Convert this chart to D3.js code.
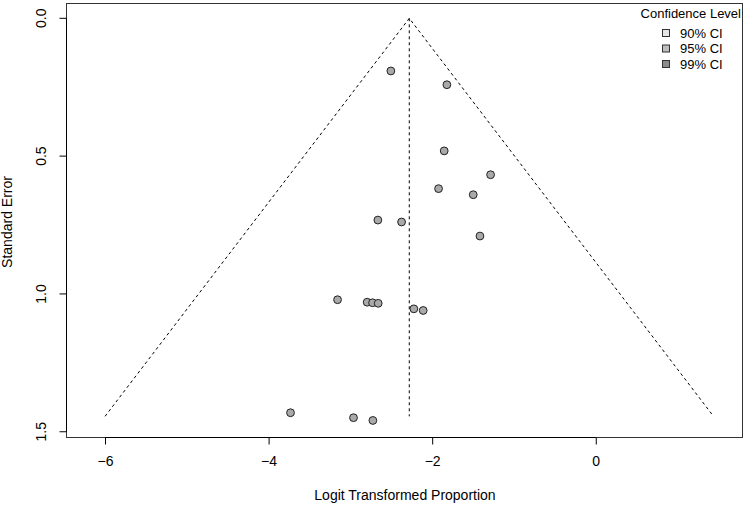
<!DOCTYPE html>
<html>
<head>
<meta charset="utf-8">
<script src="https://cdn.jsdelivr.net/npm/d3@7"></script>
<style>
  body { margin: 0; background: #fff; }
  svg { font-family: "Liberation Sans", Arial, sans-serif; }
</style>
</head>
<body>
<svg width="746" height="506"></svg>
<script>
// study estimates (logit proportion) and their standard errors
var estimates = [-2.505, -1.82, -1.853, -1.286, -1.922, -1.498, -2.664, -2.374, -1.416,
                 -3.157, -2.795, -2.729, -2.66, -2.224, -2.11, -3.732, -2.962, -2.725];
var stdErrors = [0.191, 0.241, 0.481, 0.5675, 0.618, 0.640, 0.732, 0.739, 0.790,
                 1.021, 1.030, 1.032, 1.034, 1.054, 1.060, 1.431, 1.449, 1.459];

var pooled = -2.28,      // summary estimate (centre line)
    seMax = 1.444,       // bottom of the funnel
    zCrit = 2.576;       // 99% limits

var xTicks = [-6, -4, -2, 0],
    yTicks = [0, 0.5, 1, 1.5];

var legendTitle = "Confidence Level",
    legendLabels = ["90% CI", "95% CI", "99% CI"],
    legendFills = ["#e6e6e6", "#bebebe", "#8c8c8c"];

var svg = d3.select("svg"),
    box = {left: 66, right: 742, top: 3, bottom: 437};

var x = d3.scaleLinear().domain([-6.477, 1.788]).range([box.left, box.right]),
    y = d3.scaleLinear().domain([-0.0555, 1.519]).range([box.top, box.bottom]);

// funnel (dotted) and centre line
var funnel = [[pooled - zCrit * seMax, seMax], [pooled, 0], [pooled + zCrit * seMax, seMax]];
svg.append("path")
    .datum(funnel)
    .attr("fill", "none")
    .attr("stroke", "#000")
    .attr("stroke-width", 1)
    .attr("stroke-dasharray", "3,3")
    .attr("d", d3.line().x(d => x(d[0])).y(d => y(d[1])));

svg.append("line")
    .attr("x1", x(pooled)).attr("x2", x(pooled))
    .attr("y1", y(0)).attr("y2", y(seMax))
    .attr("stroke", "#000")
    .attr("stroke-dasharray", "3,3");

// points
svg.append("g").selectAll("circle")
    .data(estimates)
  .enter().append("circle")
    .attr("cx", d => x(d))
    .attr("cy", (d, i) => y(stdErrors[i]))
    .attr("r", 3.9)
    .attr("fill", "#a9a9a9")
    .attr("stroke", "#222")
    .attr("stroke-width", 1);

// box
svg.append("rect")
    .attr("x", box.left + 0.5).attr("y", box.top + 0.5)
    .attr("width", box.right - box.left).attr("height", box.bottom - box.top)
    .attr("fill", "none")
    .attr("stroke", "#333");

// axes
var xAxis = d3.axisBottom(x).tickValues(xTicks).tickSize(7).tickPadding(12)
    .tickFormat(d => d < 0 ? "\u2212" + Math.abs(d) : d);
var yAxis = d3.axisLeft(y).tickValues(yTicks).tickSize(7)
    .tickFormat(d3.format(".1f"));

var gx = svg.append("g")
    .attr("transform", "translate(0," + (box.bottom + 0.5) + ")")
    .call(xAxis);
gx.select(".domain").attr("d", "M" + x(xTicks[0]) + ",0H" + x(xTicks[xTicks.length - 1]));
gx.selectAll("text").attr("font-size", 14).attr("fill", "#000");

var gy = svg.append("g")
    .attr("transform", "translate(" + (box.left + 0.5) + ",0)")
    .call(yAxis);
gy.select(".domain").attr("d", "M0," + y(yTicks[0]) + "V" + y(yTicks[yTicks.length - 1]));
gy.selectAll(".tick").attr("transform", null);
gy.selectAll(".tick line").attr("transform", d => "translate(0," + y(d) + ")");
gy.selectAll(".tick text")
    .attr("font-size", 14)
    .attr("fill", "#000")
    .attr("text-anchor", "middle")
    .attr("x", 0).attr("y", 0).attr("dy", null)
    .attr("transform", d => "translate(-20.5," + y(d) + ") rotate(-90)");

svg.append("text")
    .attr("x", 405)
    .attr("y", 500)
    .attr("text-anchor", "middle")
    .attr("font-size", 14)
    .text("Logit Transformed Proportion");

svg.append("text")
    .attr("transform", "translate(12,222) rotate(-90)")
    .attr("text-anchor", "middle")
    .attr("font-size", 14)
    .text("Standard Error");

// legend
var legend = svg.append("g");
legend.append("text")
    .attr("x", 741).attr("y", 18)
    .attr("text-anchor", "end")
    .attr("font-size", 13)
    .text(legendTitle);

var rows = legend.selectAll(".row")
    .data(legendLabels)
  .enter().append("g")
    .attr("class", "row")
    .attr("transform", (d, i) => "translate(0," + (33 + i * 15.5) + ")");
rows.append("rect")
    .attr("x", 662.5).attr("y", -3.5)
    .attr("width", 7).attr("height", 7)
    .attr("fill", (d, i) => legendFills[i])
    .attr("stroke", "#333");
rows.append("text")
    .attr("x", 680).attr("y", 4.5)
    .attr("font-size", 13)
    .text(d => d);
</script>
</body>
</html>
